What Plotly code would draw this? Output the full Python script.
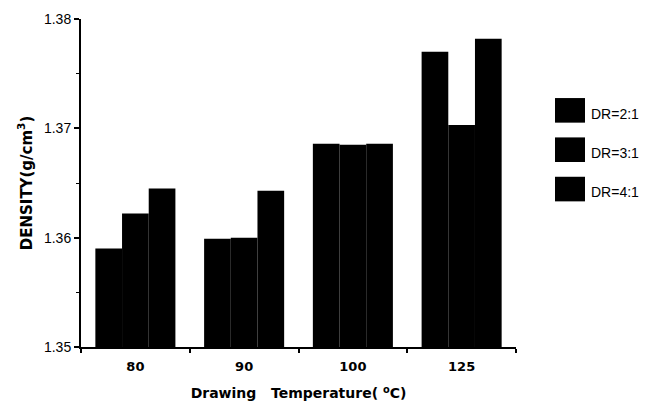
import plotly.graph_objects as go

categories = ["80", "90", "100", "125"]
series_names = ["DR=2:1", "DR=3:1", "DR=4:1"]
dr2 = [1.3590, 1.3599, 1.3686, 1.3770]
dr3 = [1.3622, 1.3600, 1.3685, 1.3703]
dr4 = [1.3645, 1.3643, 1.3686, 1.3782]
series_values = [dr2, dr3, dr4]
series_colors = ["#000000", "#000000", "#000000"]
y_ticks = [1.35, 1.36, 1.37, 1.38]

fig = go.Figure()
for name, vals, col in zip(series_names, series_values, series_colors):
    fig.add_trace(go.Bar(x=categories, y=vals, name=name, marker_color=col,
                         marker_line_width=0, showlegend=False))

# page body has an 8px default margin; margins compensate for it
fig.update_layout(
    width=647, height=405,
    margin=dict(l=73, r=139, t=11, b=66, autoexpand=False),
    paper_bgcolor="white", plot_bgcolor="white",
    barmode="group", bargap=0.264, bargroupgap=0,
)

fig.update_yaxes(
    automargin=False,
    range=[1.35, 1.38], tickvals=y_ticks, ticktext=[f"{v:.2f}" for v in y_ticks],
    showgrid=False, zeroline=False, showline=True, linecolor="black", linewidth=2,
    ticks="outside", ticklen=5, tickwidth=1.5, tickcolor="black",
    minor=dict(dtick=0.005, ticks="outside", ticklen=3, tickwidth=1, tickcolor="black", showgrid=False),
    tickfont=dict(family="Liberation Sans", size=14, color="black"),
    title=dict(text="DENSITY(g/cm<sup>3</sup>)", standoff=8,
               font=dict(family="DejaVu Sans", size=15, color="black", weight="bold")),
)
fig.update_xaxes(
    automargin=False,
    range=[-0.5, 3.5], tickson="boundaries",
    showgrid=False, zeroline=False, showline=True, linecolor="black", linewidth=2,
    ticks="outside", ticklen=4, tickwidth=1.5, tickcolor="black",
    ticklabelstandoff=6,
    tickfont=dict(family="DejaVu Sans", size=13, color="black", weight="bold"),
    title=dict(text="Drawing&nbsp;&nbsp; Temperature( <sup>o</sup>C)", standoff=16,
               font=dict(family="DejaVu Sans", size=14, color="black", weight="bold")),
)

# legend drawn manually (large square swatches)
box_x0, box_x1 = 1.0897, 1.1586
box_top = 0.759
box_h = 0.075
step = 0.120
for i, (name, col) in enumerate(zip(series_names, series_colors)):
    top = box_top - i * step
    fig.add_shape(type="rect", xref="paper", yref="paper",
                  x0=box_x0, x1=box_x1, y0=top - box_h, y1=top,
                  fillcolor=col, line=dict(width=0))
    fig.add_annotation(xref="paper", yref="paper", x=1.168, y=top - box_h / 2 - 0.01,
                       text=name, showarrow=False, xanchor="left", yanchor="middle",
                       font=dict(family="Liberation Sans", size=14, color="black"))

fig.write_html("out.html")
